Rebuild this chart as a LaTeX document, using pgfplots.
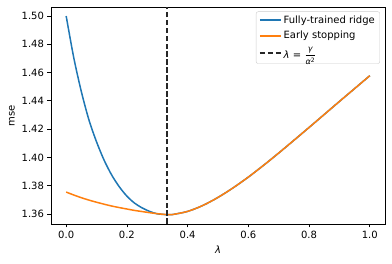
\documentclass[border=0pt]{standalone}
\usepackage{amsmath}
\usepackage{fontspec}
\setmainfont{DejaVu Sans}
\usepackage{pgfplots}
\pgfplotsset{compat=1.18}
\definecolor{cblue}{HTML}{1F77B4}
\definecolor{corange}{HTML}{FF7F0E}
\newcommand{\fr}[1]{\mbox{\fontsize{8}{8}\selectfont #1}}
\begin{document}
\fontsize{10}{12}\selectfont
\begin{tikzpicture}
\begin{axis}[
  scale only axis,
  width=334pt, height=217pt,
  xmin=-0.05, xmax=1.05,
  ymin=1.3529, ymax=1.5064,
  xtick={0,0.2,0.4,0.6,0.8,1.0},
  ytick={1.36,1.38,1.40,1.42,1.44,1.46,1.48,1.50},
  xticklabel style={/pgf/number format/.cd, fixed, fixed zerofill, precision=1},
  yticklabel style={/pgf/number format/.cd, fixed, fixed zerofill, precision=2},
  /pgf/number format/assume math mode=true,
  tick align=outside, tick pos=left,
  major tick length=3.5pt,
  tick style={line width=0.8pt, black},
  axis line style={line width=0.8pt},
  ticklabel style={font=\fontsize{10}{12}\selectfont},
  xlabel={\textit{λ}}, ylabel={mse},
  label style={font=\fontsize{10}{12}\selectfont},
  legend style={at={(1,1)}, anchor=north east, xshift=-5pt, yshift=-4.5pt,
    draw=black!20, rounded corners=2pt, font=\fontsize{10}{12}\selectfont,
    inner xsep=3pt, inner ysep=2pt, row sep=2.5pt,
    nodes={inner sep=2pt}},
  legend cell align=left,
  legend image code/.code={\draw[#1, line width=1.5pt] (0pt,0pt) -- (21pt,0pt);},
]
\addplot[cblue, line width=1.5pt, smooth] coordinates {
(0,1.5000) (0.025,1.4705) (0.05,1.4465) (0.075,1.4265) (0.1,1.4110)
(0.125,1.3980) (0.15,1.3875) (0.175,1.3792) (0.2,1.3726) (0.225,1.3677)
(0.25,1.3643) (0.275,1.3618) (0.3,1.3601) (0.3333,1.3595) (0.35,1.3596)
(0.4,1.3618) (0.45,1.3660) (0.5,1.3717) (0.55,1.3785) (0.6,1.3861)
(0.65,1.3944) (0.7,1.4031) (0.75,1.4121) (0.8,1.4212) (0.85,1.4304)
(0.9,1.4396) (0.95,1.4487) (1.0,1.4578)};
\addlegendentry{Fully-trained ridge}
\addplot[corange, line width=1.5pt, smooth] coordinates {
(0,1.3755) (0.025,1.3734) (0.05,1.3715) (0.075,1.3698) (0.1,1.3683)
(0.125,1.3669) (0.15,1.3656) (0.175,1.3645) (0.2,1.3635) (0.225,1.3625)
(0.25,1.3617) (0.275,1.3609) (0.3,1.3602) (0.3333,1.3595) (0.35,1.3596)
(0.4,1.3618) (0.45,1.3660) (0.5,1.3717) (0.55,1.3785) (0.6,1.3861)
(0.65,1.3944) (0.7,1.4031) (0.75,1.4121) (0.8,1.4212) (0.85,1.4304)
(0.9,1.4396) (0.95,1.4487) (1.0,1.4578)};
\addlegendentry{Early stopping}
\addplot[black!85, line width=1.9pt, dash pattern=on 5.55pt off 2.4pt] coordinates {(0.3333,1.3529) (0.3333,1.5064)};
\addlegendentry{\textit{λ} = $\dfrac{\fr{\textit{γ}}}{\fr{\textit{α}\textsuperscript{2}}}$}
\end{axis}
\path ([shift={(-51pt,-40pt)}]current axis.south west) ([shift={(7pt,7pt)}]current axis.north east);
\end{tikzpicture}
\end{document}
